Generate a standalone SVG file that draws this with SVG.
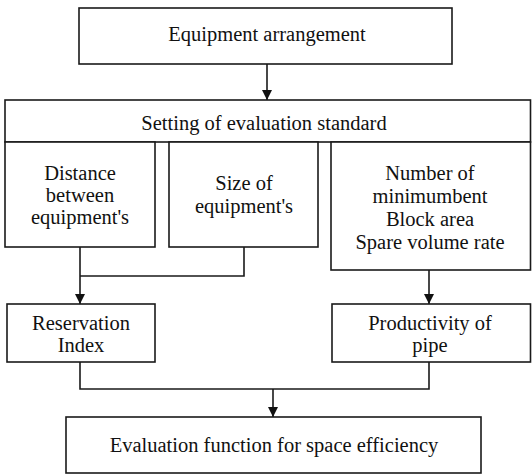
<svg xmlns="http://www.w3.org/2000/svg" width="532" height="474" viewBox="0 0 532 474">
<style>
.box{fill:#fff;stroke:#1a1a1a;stroke-width:1.6}
.t{font-family:"Liberation Serif","DejaVu Serif",serif;font-size:20.5px;fill:#111;text-anchor:middle}
.c{fill:none;stroke:#1a1a1a;stroke-width:1.6}
</style>
<defs>
<marker id="ah" viewBox="0 0 10 10" refX="10" refY="5" markerWidth="10" markerHeight="10" markerUnits="userSpaceOnUse" orient="auto">
<path d="M0,0 L10,5 L0,10 Z" fill="#111"/>
</marker>
</defs>
<rect width="532" height="474" fill="#fff"/>
<g id="connectors">
<path class="c" d="M267,64 V100" marker-end="url(#ah)"/>
<path class="c" d="M80,247 V304" marker-end="url(#ah)"/>
<path class="c" d="M244,247 V276 H80"/>
<path class="c" d="M429,270 V304" marker-end="url(#ah)"/>
<path class="c" d="M80,362 V389 H429 V362"/>
<path class="c" d="M273,389 V417" marker-end="url(#ah)"/>
</g>
<g id="n-arrangement">
<rect class="box" x="79" y="8" width="373" height="56"/>
<text class="t" x="267" y="41">Equipment arrangement</text>
</g>
<g id="n-setting">
<rect class="box" x="5" y="100" width="525.5" height="42"/>
<text class="t" x="264" y="130">Setting of evaluation standard</text>
</g>
<g id="n-distance">
<rect class="box" x="5" y="142" width="150" height="105"/>
<text class="t" x="80" y="180">Distance</text>
<text class="t" x="80" y="202">between</text>
<text class="t" x="80" y="224">equipment's</text>
</g>
<g id="n-size">
<rect class="box" x="169" y="142" width="149" height="105"/>
<text class="t" x="244" y="190">Size of</text>
<text class="t" x="244" y="213">equipment's</text>
</g>
<g id="n-number">
<rect class="box" x="331" y="142" width="199.5" height="128"/>
<text class="t" x="430" y="180">Number of</text>
<text class="t" x="430" y="203">minimumbent</text>
<text class="t" x="430" y="226">Block area</text>
<text class="t" x="430" y="249">Spare volume rate</text>
</g>
<g id="n-reservation">
<rect class="box" x="7" y="304" width="148" height="58"/>
<text class="t" x="81" y="330">Reservation</text>
<text class="t" x="81" y="352">Index</text>
</g>
<g id="n-productivity">
<rect class="box" x="332" y="304" width="198.5" height="58"/>
<text class="t" x="430" y="330">Productivity of</text>
<text class="t" x="430" y="352">pipe</text>
</g>
<g id="n-evaluation">
<rect class="box" x="66" y="417" width="415" height="56"/>
<text class="t" x="274" y="452">Evaluation function for space efficiency</text>
</g>
</svg>
